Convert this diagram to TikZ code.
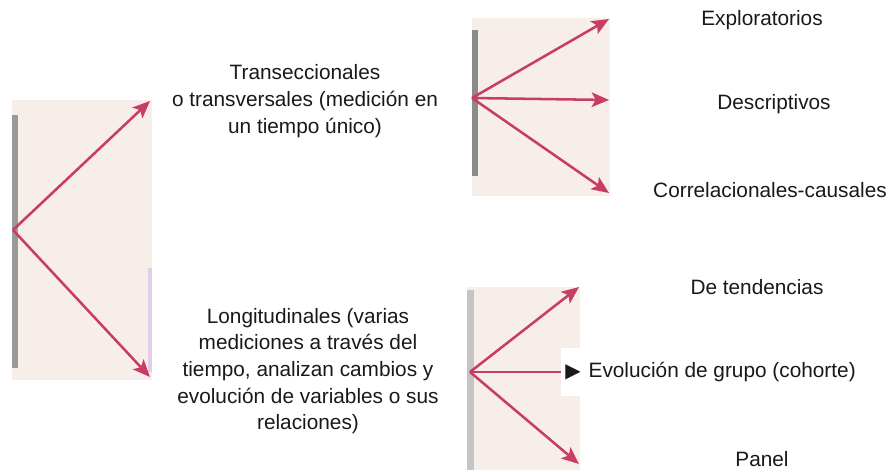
\documentclass[tikz,border=0pt]{standalone}
\usepackage{fontspec}
\setmainfont{Liberation Sans}
\newfontfamily\symfont{DejaVu Sans}
\usetikzlibrary{arrows.meta}
\definecolor{paper}{HTML}{F7EEEA}
\definecolor{spine}{HTML}{6E6F6C}
\definecolor{lilac}{HTML}{E3CCE6}
\definecolor{rosa}{HTML}{C73D66}
\tikzset{
  patch/.style={fill=paper, draw=none},
  arr/.style={draw=rosa, line width=1.9pt, -{Stealth[length=13pt,width=11pt,inset=3pt]}},
  lbl/.style={font=\fontsize{15.6}{20}\selectfont, text=black!90, inner sep=0pt},
}
\begin{document}
\begin{tikzpicture}[x=0.75pt,y=-0.75pt]
\useasboundingbox (0,0) rectangle (892,471);
% scanned patches behind the arrows
\fill[patch] (12,100) rectangle (152,380);
\fill[spine!70] (12,115) rectangle (18,368);
\fill[lilac] (148,268) rectangle (152,372);
\fill[patch] (472,18) rectangle (610,196);
\fill[spine!80] (472,30) rectangle (478,176);
\fill[patch] (467,287) rectangle (580,470);
\fill[spine!40] (467,290) rectangle (474,470);
% origins
\coordinate (A) at (13,230);
\coordinate (B) at (472,98);
\coordinate (C) at (470,372);
\coordinate (A1) at (150,101);
\coordinate (A2) at (150,377);
\coordinate (B1) at (609,19);
\coordinate (B2) at (609,100);
\coordinate (B3) at (609,193);
\coordinate (C1) at (579,287);
\coordinate (C3) at (579,464);
\draw[arr] (A) -- (A1);
\draw[arr] (A) -- (A2);
\draw[arr] (B) -- (B1);
\draw[arr] (B) -- (B2);
\draw[arr] (B) -- (B3);
\draw[arr] (C) -- (C1);
\draw[arr] (C) -- (C3);
% labels
\node[lbl, align=center] (trans) at (305,101) {Transeccionales\\o transversales (medición en\\un tiempo único)};
\node[lbl, align=center] (longi) at (308,371) {Longitudinales (varias\\mediciones a través del\\tiempo, analizan cambios y\\evolución de variables o sus\\relaciones)};
\node[lbl] (explo) at (762,20) {Exploratorios};
\node[lbl] (descr) at (774,104) {Descriptivos};
\node[lbl] (corre) at (770,190) {Correlacionales-causales};
\node[lbl] (tend) at (757,287) {De tendencias};
\node[lbl, anchor=west, fill=white, inner sep=3pt, minimum height=36pt] (evol) at (561,372) {{\symfont\fontsize{15}{15}\selectfont ▶}\hspace{6pt}Evolución de grupo (cohorte)};
\node[lbl] (panel) at (762,459) {Panel};
\draw[rosa, line width=1.9pt] (C) -- (evol.west);
\end{tikzpicture}
\end{document}
